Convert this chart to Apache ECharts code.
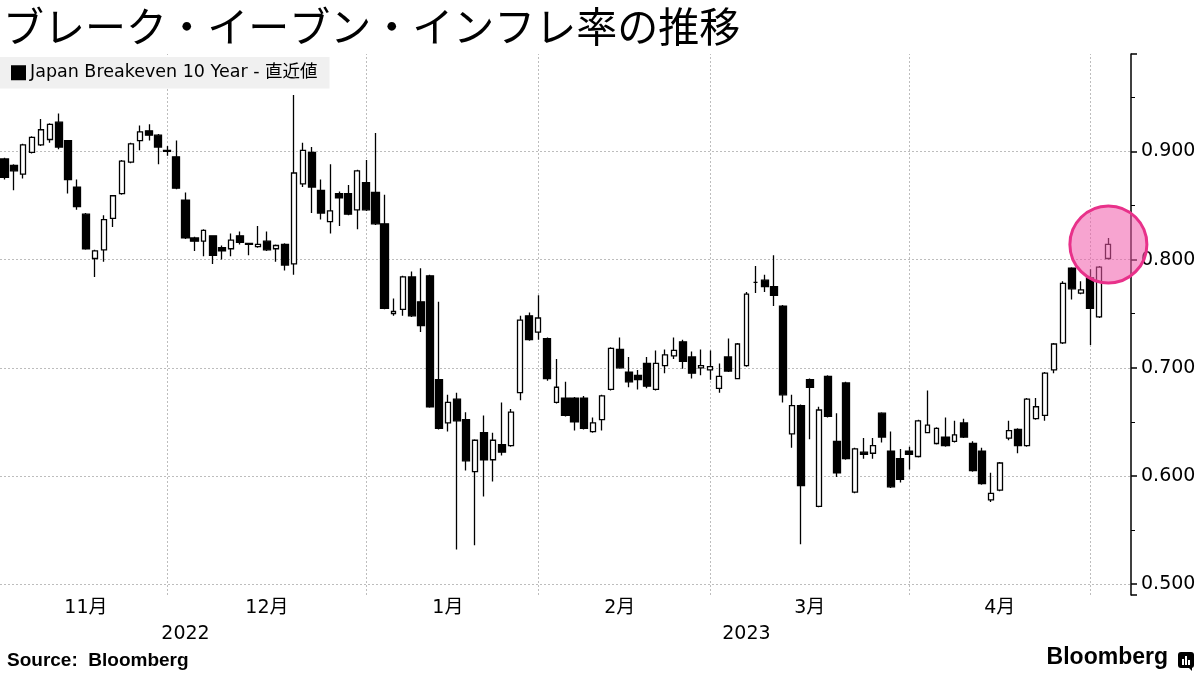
<!DOCTYPE html>
<html><head><meta charset="utf-8">
<script src="https://cdn.jsdelivr.net/npm/echarts@6/dist/echarts.min.js"></script>
<style>html,body{margin:0;padding:0;background:#fff;}#c{width:1200px;height:675px;}</style>
</head><body><div id="c"></div>
<script>
// Trading days (Japan calendar); last two are empty padding days on the axis
const categories = [
'2022-11-04','2022-11-07','2022-11-08','2022-11-09','2022-11-10','2022-11-11','2022-11-14','2022-11-15','2022-11-16','2022-11-17','2022-11-18','2022-11-21','2022-11-22','2022-11-24','2022-11-25','2022-11-28','2022-11-29','2022-11-30',
'2022-12-01','2022-12-02','2022-12-05','2022-12-06','2022-12-07','2022-12-08','2022-12-09','2022-12-12','2022-12-13','2022-12-14','2022-12-15','2022-12-16','2022-12-19','2022-12-20','2022-12-21','2022-12-22','2022-12-23','2022-12-26','2022-12-27','2022-12-28','2022-12-29','2022-12-30',
'2023-01-04','2023-01-05','2023-01-06','2023-01-10','2023-01-11','2023-01-12','2023-01-13','2023-01-16','2023-01-17','2023-01-18','2023-01-19','2023-01-20','2023-01-23','2023-01-24','2023-01-25','2023-01-26','2023-01-27','2023-01-30','2023-01-31',
'2023-02-01','2023-02-02','2023-02-03','2023-02-06','2023-02-07','2023-02-08','2023-02-09','2023-02-10','2023-02-13','2023-02-14','2023-02-15','2023-02-16','2023-02-17','2023-02-20','2023-02-21','2023-02-22','2023-02-24','2023-02-27','2023-02-28',
'2023-03-01','2023-03-02','2023-03-03','2023-03-06','2023-03-07','2023-03-08','2023-03-09','2023-03-10','2023-03-13','2023-03-14','2023-03-15','2023-03-16','2023-03-17','2023-03-20','2023-03-22','2023-03-23','2023-03-24','2023-03-27','2023-03-28','2023-03-29','2023-03-30','2023-03-31',
'2023-04-03','2023-04-04','2023-04-05','2023-04-06','2023-04-07','2023-04-10','2023-04-11','2023-04-12','2023-04-13','2023-04-14','2023-04-17','2023-04-18','2023-04-19','2023-04-20','2023-04-21','2023-04-24','2023-04-25','2023-04-26','2023-04-27','2023-04-28',
'2023-05-01','2023-05-02','2023-05-08','2023-05-09','2023-05-10'
];

const openV = [
0.893,0.887,0.879,0.899,0.906,0.911,0.927,0.910,0.867,0.842,0.801,0.809,0.838,0.861,0.890,0.910,0.919,0.915,
0.901,0.895,0.855,0.820,0.817,0.822,0.811,0.810,0.822,0.815,0.812,0.817,0.810,0.814,0.796,0.870,0.899,0.864,0.835,0.861,0.861,0.846,
0.871,0.862,0.833,0.750,0.754,0.784,0.761,0.785,0.689,0.649,0.671,0.652,0.604,0.640,0.615,0.629,0.628,0.677,0.748,
0.733,0.727,0.668,0.672,0.672,0.672,0.641,0.652,0.680,0.717,0.696,0.693,0.704,0.680,0.702,0.711,0.724,0.710,0.700,
0.698,0.681,0.710,0.690,0.702,0.779,0.781,0.775,0.757,0.639,0.665,0.689,0.572,0.692,0.632,0.686,0.585,0.622,0.621,0.658,0.623,0.616,
0.623,0.618,0.640,0.630,0.636,0.632,0.649,0.630,0.623,0.578,0.587,0.635,0.643,0.628,0.653,0.656,0.698,0.723,0.792,0.769,
0.783,0.747,0.801
];
const closeV = [
0.876,0.882,0.906,0.913,0.920,0.925,0.904,0.874,0.849,0.810,0.808,0.837,0.859,0.891,0.907,0.918,0.915,0.904,
0.900,0.866,0.820,0.817,0.827,0.804,0.808,0.818,0.816,0.814,0.814,0.809,0.813,0.795,0.880,0.901,0.867,0.843,0.845,0.857,0.842,0.882,
0.846,0.833,0.755,0.752,0.784,0.748,0.739,0.664,0.644,0.668,0.651,0.614,0.633,0.615,0.633,0.622,0.659,0.744,0.726,
0.746,0.690,0.682,0.656,0.650,0.644,0.649,0.674,0.718,0.700,0.687,0.689,0.683,0.704,0.712,0.716,0.706,0.695,0.702,
0.701,0.692,0.697,0.722,0.768,0.779,0.775,0.767,0.675,0.665,0.591,0.682,0.661,0.655,0.603,0.616,0.625,0.620,0.628,0.636,0.590,0.597,
0.620,0.651,0.647,0.644,0.628,0.638,0.636,0.605,0.593,0.584,0.612,0.642,0.628,0.671,0.664,0.695,0.722,0.778,0.773,0.772,
0.755,0.793,0.814
];
const lowV = [
0.874,0.864,0.875,0.898,0.905,0.908,0.902,0.861,0.846,0.809,0.784,0.798,0.830,0.860,0.889,0.901,0.910,0.888,
0.896,0.865,0.819,0.808,0.803,0.796,0.800,0.803,0.814,0.804,0.811,0.808,0.798,0.790,0.786,0.867,0.843,0.837,0.824,0.831,0.841,0.828,
0.845,0.832,0.754,0.748,0.748,0.747,0.733,0.663,0.643,0.641,0.532,0.605,0.536,0.581,0.595,0.619,0.627,0.670,0.725,
0.726,0.688,0.667,0.655,0.642,0.643,0.640,0.642,0.679,0.699,0.682,0.680,0.681,0.679,0.695,0.708,0.699,0.690,0.693,
0.689,0.677,0.696,0.690,0.701,0.769,0.770,0.757,0.668,0.626,0.537,0.634,0.571,0.654,0.599,0.615,0.584,0.616,0.616,0.631,0.589,0.594,
0.606,0.617,0.640,0.629,0.627,0.631,0.635,0.604,0.592,0.576,0.586,0.633,0.621,0.627,0.652,0.651,0.695,0.722,0.763,0.768,
0.721,0.746,0.800
];
const highV = [
0.894,0.888,0.907,0.914,0.930,0.926,0.935,0.910,0.874,0.843,0.809,0.841,0.859,0.892,0.908,0.924,0.925,0.916,
0.905,0.910,0.862,0.821,0.828,0.822,0.813,0.824,0.826,0.815,0.831,0.826,0.814,0.815,0.952,0.908,0.904,0.874,0.888,0.863,0.869,0.883,
0.892,0.917,0.860,0.764,0.785,0.789,0.792,0.786,0.761,0.675,0.677,0.659,0.634,0.656,0.640,0.668,0.662,0.748,0.751,
0.767,0.728,0.708,0.687,0.673,0.674,0.654,0.675,0.719,0.728,0.710,0.698,0.710,0.716,0.717,0.728,0.726,0.715,0.717,
0.716,0.704,0.727,0.723,0.770,0.794,0.786,0.804,0.758,0.675,0.666,0.690,0.664,0.693,0.658,0.687,0.626,0.635,0.635,0.659,0.641,0.625,
0.627,0.652,0.679,0.645,0.654,0.651,0.653,0.632,0.626,0.603,0.613,0.651,0.644,0.672,0.672,0.696,0.723,0.780,0.793,0.780,
0.791,0.794,0.820
];

const seriesName = 'Japan Breakeven 10 Year - 直近値';
const titleText = 'ブレーク・イーブン・インフレ率の推移';

const n = openV.length;
const upData = [], downData = [];
for (let i = 0; i < n; i++) {
  const item = [openV[i], closeV[i], lowV[i], highV[i]];
  if (closeV[i] >= openV[i]) { upData.push(item); downData.push('-'); }
  else { upData.push('-'); downData.push(item); }
}

// month / year boundaries derived from categories
const monthStarts = [], yearStarts = [];
categories.forEach((d, i) => {
  if (i === 0 || d.slice(0, 7) !== categories[i - 1].slice(0, 7)) monthStarts.push(i);
  if (i === 0 || d.slice(0, 4) !== categories[i - 1].slice(0, 4)) yearStarts.push(i);
});
const monthLabelIdx = new Set();
monthStarts.forEach((s, k) => {
  const e = k + 1 < monthStarts.length ? monthStarts[k + 1] : categories.length;
  if (e - s >= 10) monthLabelIdx.add(Math.floor((s + e) / 2));
});
const yearLabelIdx = new Set();
yearStarts.forEach((s, k) => {
  const e = k + 1 < yearStarts.length ? yearStarts[k + 1] : categories.length;
  yearLabelIdx.add(Math.floor((s + e) / 2));
});
const gridLineIdx = monthStarts.slice(1);

const labelFont = 'DejaVu Sans, Noto Sans CJK JP';
const chart = echarts.init(document.getElementById('c'), null, {renderer: 'canvas', width: 1200, height: 675});
chart.setOption({
  animation: false,
  backgroundColor: '#ffffff',
  title: {
    text: titleText, left: 0, top: 6, padding: [0, 0, 0, 3],
    textStyle: {fontFamily: 'Noto Sans CJK JP', fontSize: 41, fontWeight: 'normal', color: '#000'}
  },
  legend: {
    data: [seriesName], left: 0, top: 57, icon: 'rect', itemWidth: 13, itemHeight: 13,
    backgroundColor: '#f0f0f0', padding: [7, 12, 7, 11], selectedMode: false,
    textStyle: {fontFamily: labelFont, fontSize: 17.5, color: '#000'}
  },
  grid: {left: -4, right: 69, top: 54, bottom: 80},
  xAxis: [{
    type: 'category', data: categories, boundaryGap: true,
    axisLine: {show: false}, axisTick: {show: false}, splitLine: {show: false},
    axisLabel: {
      interval: (i) => monthLabelIdx.has(i), margin: 4,
      formatter: (v) => parseInt(v.slice(5, 7), 10) + '月',
      fontFamily: labelFont, fontSize: 19, color: '#000'
    }
  }, {
    type: 'category', data: categories, boundaryGap: true, position: 'bottom', offset: 26,
    axisLine: {show: false}, axisTick: {show: false}, splitLine: {show: false},
    axisLabel: {
      interval: (i) => yearLabelIdx.has(i), margin: 4,
      formatter: (v) => v.slice(0, 4),
      fontFamily: labelFont, fontSize: 19, color: '#000'
    }
  }],
  yAxis: {
    type: 'value', position: 'right', min: 0.49, max: 0.99, splitNumber: 5, scale: true,
    axisLine: {show: true, lineStyle: {color: '#000', width: 1.5}},
    axisTick: {show: true, inside: false, length: 6, lineStyle: {color: '#000', width: 1.5}},
    minorTick: {show: true, splitNumber: 2, length: 4, lineStyle: {color: '#000', width: 1}},
    axisLabel: {
      margin: 10, showMinLabel: false, showMaxLabel: false,
      formatter: (v) => v.toFixed(3), fontFamily: labelFont, fontSize: 19, color: '#000'
    },
    splitLine: {show: true, showMinLine: false, showMaxLine: false, lineStyle: {color: '#bdbdbd', type: [2, 2], width: 1}}
  },
  series: [{
    name: 'up', type: 'candlestick', data: upData, barWidth: 5.3, z: 2,
    itemStyle: {color: '#fff', color0: '#fff', borderColor: '#000', borderColor0: '#000', borderWidth: 1.3},
    markLine: {
      silent: true, symbol: 'none', z: 1, label: {show: false},
      lineStyle: {color: '#bdbdbd', type: [2, 2], width: 1},
      data: gridLineIdx.map(i => ({xAxis: categories[i]}))
    }
  }, {
    name: seriesName, type: 'candlestick', data: downData, barWidth: 7.6, z: 2,
    itemStyle: {color: '#000', color0: '#000', borderColor: '#000', borderColor0: '#000', borderWidth: 1.3}
  }, {
    name: 'highlight', type: 'scatter', z: 5, silent: true,
    data: [[n - 1, closeV[n - 1]]], symbol: 'circle', symbolSize: 77,
    itemStyle: {color: 'rgba(240,90,170,0.55)', borderColor: '#e8318a', borderWidth: 3, opacity: 1}
  }],
  graphic: [
    {type: 'text', left: 7, top: 651, style: {text: 'Source:  Bloomberg', font: 'bold 19px "Liberation Sans"', fill: '#000'}},
    {type: 'text', right: 32, top: 646, style: {text: 'Bloomberg', font: 'bold 23px "Liberation Sans"', fill: '#000'}},
    {type: 'group', left: 1178, top: 652, children: [
      {type: 'rect', shape: {x: 0, y: 0, width: 16, height: 16, r: 3}, style: {fill: '#000'}},
      {type: 'polygon', shape: {points: [[10, 15], [14, 15], [14, 19]]}, style: {fill: '#000'}},
      {type: 'rect', shape: {x: 4, y: 7, width: 2, height: 6}, style: {fill: '#fff'}},
      {type: 'rect', shape: {x: 7, y: 4, width: 2, height: 9}, style: {fill: '#fff'}},
      {type: 'rect', shape: {x: 10, y: 8, width: 2, height: 5}, style: {fill: '#fff'}}
    ]}
  ]
});
</script></body></html>
